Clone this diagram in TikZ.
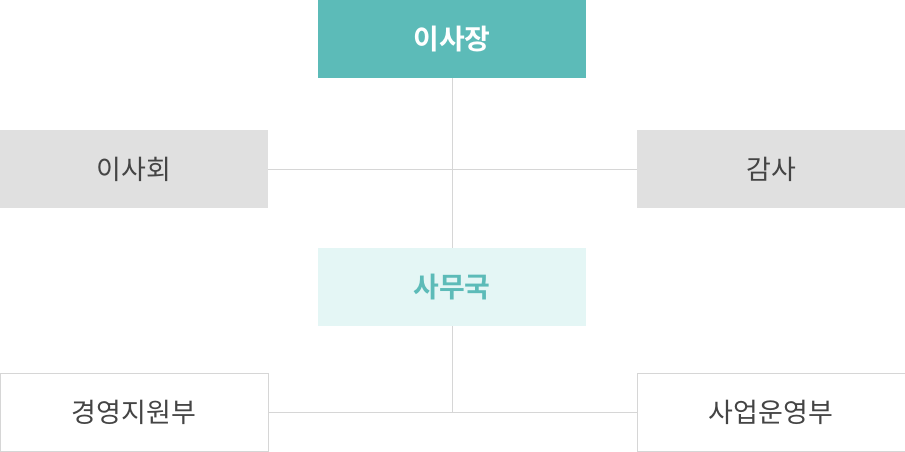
\documentclass[tikz,border=0pt]{standalone}
\usepackage{fontspec}
\setmainfont{Noto Sans CJK KR}[BoldFont={Noto Sans CJK KR Bold}]
\usetikzlibrary{positioning}
\usetikzlibrary{calc}
\definecolor{headteal}{HTML}{5CBBB8}
\definecolor{paleteal}{HTML}{E4F6F5}
\definecolor{boxgray}{HTML}{E0E0E0}
\definecolor{edgegray}{HTML}{D6D6D6}
\definecolor{textgray}{HTML}{444444}
\def\boxW{268}
\def\boxH{78}

\begin{document}
\begin{tikzpicture}[x=1pt, y=-1pt,
    orgbox/.style={minimum width=\boxW pt, minimum height=\boxH pt, inner sep=0pt,
        font=\fontsize{27}{30}\selectfont, text=textgray},
    chair/.style={orgbox, fill=headteal, text=white, font=\fontsize{28}{30}\selectfont\bfseries},
    office/.style={orgbox, fill=paleteal, text=headteal, font=\fontsize{28}{30}\selectfont\bfseries},
    board/.style={orgbox, fill=boxgray},
    dept/.style={orgbox, draw=edgegray, line width=1pt, fill=white},
    link/.style={draw=edgegray, line width=1pt}]
        \useasboundingbox (0,0) rectangle (905,452);

        % top level
        \node[chair] (head) at (452,39) {이사장};
        \node[board] (council) at (134,169) {이사회};
        \node[board] (audit) at (771,169) {감사};
        \node[office] (secretariat) at (452,287) {사무국};

        % departments
        \node[dept] (mgmt) at (134,412) {경영지원부};
        \node[dept] (ops) at (771,412) {사업운영부};

        \coordinate (midlow) at (secretariat.south |- mgmt.east);

        \draw[link] (head) -- (secretariat);
        \draw[link] (council) -- (audit);
        \draw[link] (secretariat) -- (midlow);
        \draw[link] (mgmt) -- (ops);
    \end{tikzpicture}
\end{document}
